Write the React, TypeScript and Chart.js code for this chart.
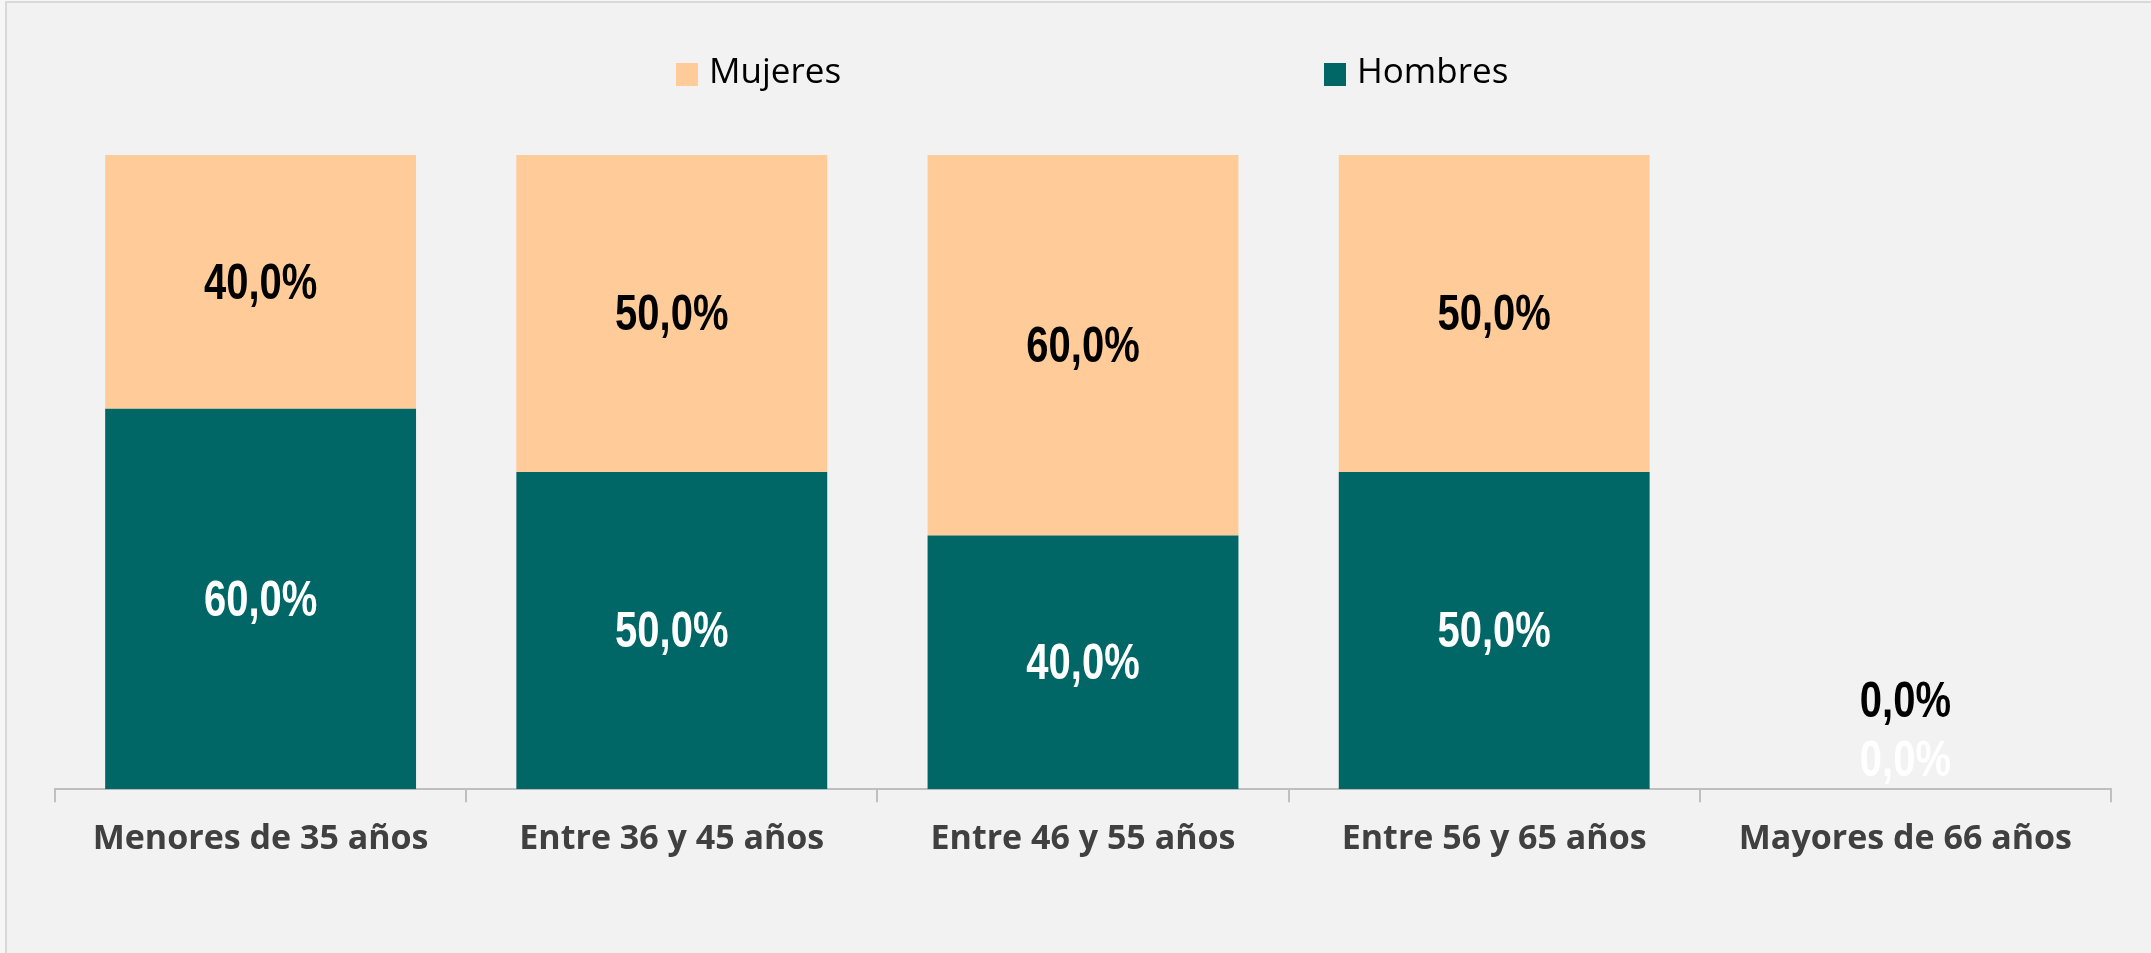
import React, { useEffect, useRef } from "react";
import { Chart, registerables } from "chart.js";

Chart.register(...registerables);

const categories = [
  "Menores de 35 años",
  "Entre 36 y 45 años",
  "Entre 46 y 55 años",
  "Entre 56 y 65 años",
  "Mayores de 66 años",
];
const hombres = [0.6, 0.5, 0.4, 0.5, 0];
const mujeres = [0.4, 0.5, 0.6, 0.5, 0];
const seriesNames = ["Hombres", "Mujeres"];
const seriesColors = ["#006666", "#FFCC99"];
const labelColors = ["#FFFFFF", "#000000"];

const fmt = (v: number) => (v * 100).toFixed(1).replace(".", ",") + "%";

const W = 2151;
const H = 953;

const dataLabelPlugin = {
  id: "dataLabelPlugin",
  afterDatasetsDraw(chart: any) {
    const ctx = chart.ctx;
    chart.data.datasets.forEach((ds: any, di: number) => {
      const meta = chart.getDatasetMeta(di);
      meta.data.forEach((bar: any, i: number) => {
        const v = ds.data[i] as number;
        const p = bar.getProps(["x", "y", "base"], true);
        let y: number;
        if (v === 0) {
          y = p.base - 30 - 59 * di;
        } else {
          y = (p.y + p.base) / 2;
        }
        ctx.save();
        ctx.translate(p.x, y);
        ctx.scale(0.8, 1);
        ctx.font = 'bold 50px "Liberation Sans", Arial, sans-serif';
        ctx.textAlign = "center";
        ctx.textBaseline = "middle";
        ctx.fillStyle = labelColors[di];
        ctx.fillText(fmt(v), 0, 3);
        ctx.restore();
      });
    });
  },
};

const legendPlugin = {
  id: "customLegend",
  afterDraw(chart: any) {
    const ctx = chart.ctx;
    const order = [1, 0];
    const x0 = 676;
    const step = 648;
    order.forEach((di, i) => {
      const ds = chart.data.datasets[di];
      const x = x0 + i * step;
      ctx.save();
      ctx.fillStyle = ds.backgroundColor;
      ctx.fillRect(x, 63, 22, 23);
      ctx.fillStyle = "#000000";
      ctx.font = '35px "Open Sans", sans-serif';
      ctx.textAlign = "left";
      ctx.textBaseline = "middle";
      ctx.fillText(ds.label, x + 33, 73);
      ctx.restore();
    });
  },
};

export default function App() {
  const ref = useRef<HTMLCanvasElement | null>(null);

  useEffect(() => {
    document.body.style.margin = "0";
    document.body.style.overflow = "hidden";
    if (!ref.current) return;
    const chart = new Chart(ref.current, {
      type: "bar",
      data: {
        labels: categories,
        datasets: [hombres, mujeres].map((d, k) => ({
          label: seriesNames[k],
          data: d,
          backgroundColor: seriesColors[k],
          borderWidth: 0,
          barPercentage: 0.756,
          categoryPercentage: 1,
        })),
      },
      options: {
        animation: false,
        responsive: false,
        events: [],
        layout: { padding: { left: 55, right: 40, top: 155, bottom: 76 } },
        plugins: {
          legend: { display: false },
          tooltip: { enabled: false },
        },
        scales: {
          x: {
            stacked: true,
            grid: {
              display: true,
              offset: true,
              drawOnChartArea: false,
              drawTicks: true,
              tickLength: 13,
              color: "#bfbfbf",
              lineWidth: 2,
            },
            border: { display: true, color: "#bfbfbf", width: 2 },
            ticks: {
              color: "#404040",
              font: { family: '"Open Sans", sans-serif', size: 34, weight: "bold" },
              padding: 17,
              maxRotation: 0,
              autoSkip: false,
            },
          },
          y: { stacked: true, display: false, min: 0, max: 1 },
        },
      },
      plugins: [dataLabelPlugin, legendPlugin],
    } as any);
    return () => chart.destroy();
  }, []);

  return (
    <div style={{ position: "relative", width: W, height: H, background: "#f6f6f6", overflow: "hidden" }}>
      <div
        style={{
          position: "absolute",
          left: 5,
          top: 1,
          width: W + 20,
          height: H + 20,
          background: "#f2f2f2",
          border: "2px solid #d9d9d9",
          boxSizing: "border-box",
        }}
      />
      <canvas ref={ref} width={W} height={H} style={{ position: "absolute", left: 0, top: 0, width: W, height: H }} />
    </div>
  );
}
